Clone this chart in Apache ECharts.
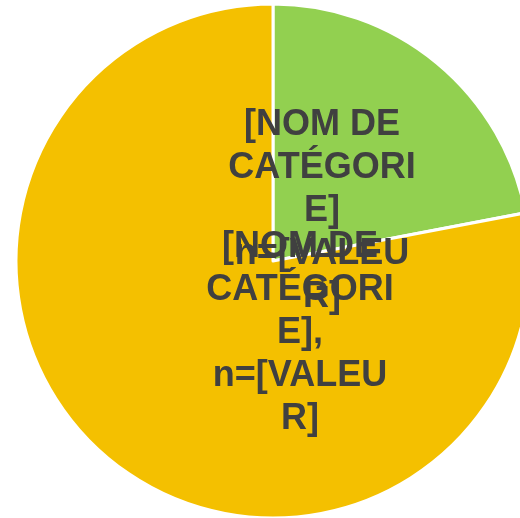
<!DOCTYPE html>
<html>
<head>
<meta charset="utf-8">
<script src="https://cdn.jsdelivr.net/npm/echarts@6/dist/echarts.min.js"></script>
<style>
  html, body { margin: 0; padding: 0; background: #fff; }
  #main { width: 520px; height: 518px; }
</style>
</head>
<body>
<div id="main"></div>
<script>
// données du graphique
var categories = ['[NOM DE\nCATÉGORI\nE]\nn=[VALEU\nR]', '[NOM DE\nCATÉGORI\nE],\nn=[VALEU\nR]'];
var values = [22, 78];
var colors = ['#92D050', '#F4C000'];

// positions des étiquettes (comme dans l'original, elles se chevauchent)
var labelPos = [[322, 211], [300, 333]];

var myChart = echarts.init(document.getElementById('main'));

var data = [];
for (var i = 0; i < values.length; i++) {
    data.push({name: categories[i], value: values[i], itemStyle: {color: colors[i]}});
}

var option = {
    animation: false,
    series: [{
        type: 'pie',
        center: [273, 261],
        radius: 257,
        startAngle: 90,
        clockwise: true,
        data: data,
        itemStyle: {borderColor: '#fff', borderWidth: 3},
        label: {
            show: true,
            position: 'inside',
            formatter: '{b}',
            color: '#404040',
            fontFamily: 'Liberation Sans, Arial, sans-serif',
            fontWeight: 'bold',
            fontSize: 36,
            lineHeight: 43,
            align: 'center'
        },
        labelLine: {show: false},
        labelLayout: function (params) {
            var p = labelPos[params.dataIndex];
            return {x: p[0], y: p[1], align: 'center', verticalAlign: 'middle'};
        },
        emphasis: {disabled: true}
    }]
};

myChart.setOption(option);
</script>
</body>
</html>
